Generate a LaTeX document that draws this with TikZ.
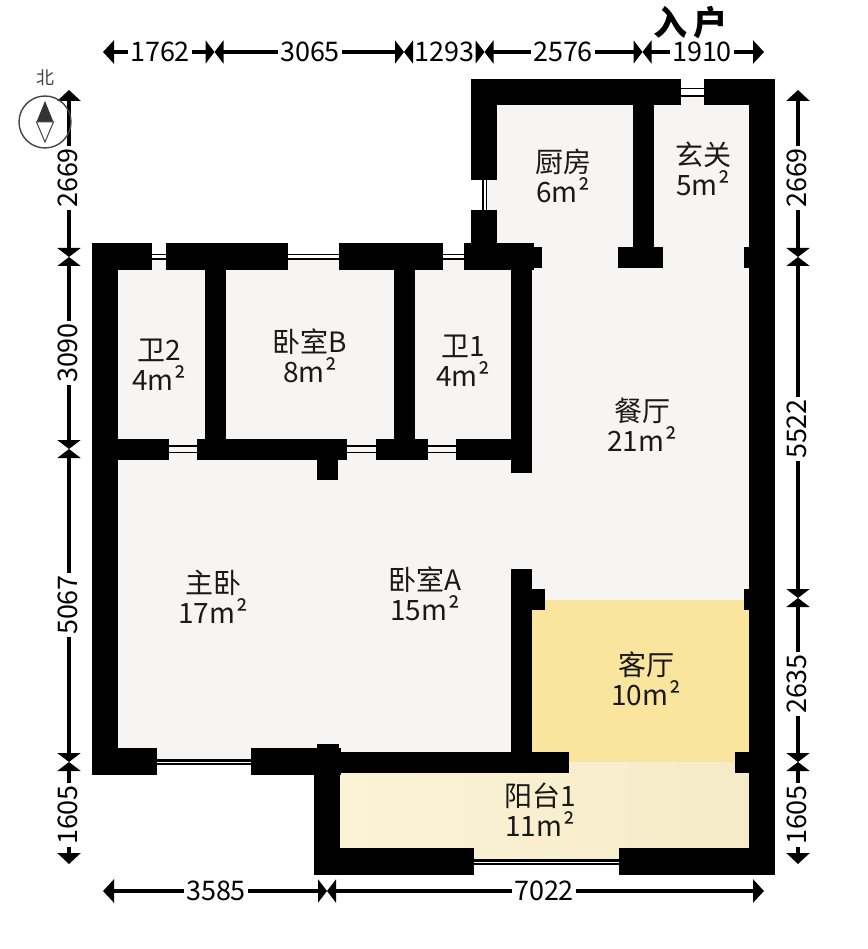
\documentclass[tikz,border=0pt]{standalone}
\usepackage{fontspec}
\setmainfont{Noto Sans CJK SC}
\usetikzlibrary{arrows.meta}
\definecolor{floorc}{HTML}{F6F5F3}
\definecolor{livingc}{HTML}{FAE59F}
\definecolor{balconyl}{HTML}{FBF3D6}
\definecolor{balconyr}{HTML}{F6EBC8}
\definecolor{compassc}{HTML}{444444}
\tikzset{
  floorarea/.style={fill=floorc,draw=none},
  wallpart/.style={fill=black,draw=none},
  panepart/.style={draw=black,line width=1.8pt},
  thickpane/.style={draw=black,line width=2.6pt},
  dimlabel/.style={font=\fontsize{27}{30}\selectfont,inner xsep=2pt,inner ysep=0pt,text height=19.8pt,text depth=0pt},
  vertlabel/.style={dimlabel,rotate=90,text depth=2pt},
  dimend/.style={draw=black,line width=4pt,-{Triangle[length=11pt,width=23pt]}},
  dimmid/.style={draw=black,line width=4pt,-{Triangle[length=9pt,width=23pt]}},
  roomlabel/.style={font=\fontsize{28}{30}\selectfont,align=center,inner sep=0pt,text=black!90},
}
\newcommand{\sqm}{m\kern1pt ²}
\newcommand{\wallrect}[4]{\fill[wallpart] (#1,#2) rectangle (#3,#4);}
\newcommand{\hpane}[3]{\draw[panepart] (#1,#3) -- (#2,#3);}
\newcommand{\vpane}[3]{\draw[panepart] (#3,#1) -- (#3,#2);}
\begin{document}
\begin{tikzpicture}[x=1pt,y=-1pt]
\useasboundingbox (0,0) rectangle (867,949);
% floors
\fill[floorarea] (497,97) rectangle (749,600);
\fill[floorarea] (487,105) rectangle (500,243);
\fill[floorarea] (118,260) rectangle (520,752);
\fill[floorarea] (500,460) rectangle (532,752);
\fill[livingc] (532,600) rectangle (749,762);
\fill[left color=balconyl,right color=balconyr,draw=none] (340,762) rectangle (749,860);
\fill[floorc] (118,745) rectangle (251,759);
% windows
\hpane{152}{166}{254.5}\hpane{152}{166}{259}
\hpane{288}{339}{254.5}\hpane{288}{339}{259}
\hpane{443}{464}{254.5}\hpane{443}{464}{259}
\hpane{681}{704}{88.5}\hpane{681}{704}{96}
\vpane{180}{210}{483}\vpane{180}{210}{486.5}
\hpane{169}{197}{446}\hpane{169}{197}{452.5}
\hpane{347}{376}{446}\hpane{347}{376}{452.5}
\hpane{428}{456}{446}\hpane{428}{456}{452.5}
\draw[thickpane] (157,760.5) -- (251,760.5);
\draw[thickpane] (157,764) -- (251,764);
\draw[thickpane] (474,860.5) -- (619,860.5);
\draw[thickpane] (474,864) -- (619,864);
% walls
\wallrect{92}{243}{118}{775}
\wallrect{92}{243}{152}{270}
\wallrect{166}{243}{288}{270}
\wallrect{339}{243}{443}{270}
\wallrect{464}{243}{534}{270}
\wallrect{534}{247}{542}{268}
\wallrect{205}{270}{226}{440}
\wallrect{394}{270}{415}{440}
\wallrect{511}{270}{532}{473}
\wallrect{118}{439}{169}{460}
\wallrect{197}{439}{347}{460}
\wallrect{376}{439}{428}{460}
\wallrect{456}{439}{511}{460}
\wallrect{317}{460}{338}{480}
\wallrect{471}{79}{681}{105}
\wallrect{704}{79}{775}{105}
\wallrect{749}{79}{775}{875}
\wallrect{471}{79}{497}{180}
\wallrect{471}{210}{497}{243}
\wallrect{633}{105}{654}{247}
\wallrect{618}{247}{663}{268}
\wallrect{744}{247}{749}{268}
\wallrect{511}{569}{532}{752}
\wallrect{532}{589}{545}{610}
\wallrect{744}{589}{749}{610}
\wallrect{92}{748}{157}{775}
\wallrect{251}{748}{341}{775}
\wallrect{317}{744}{339}{748}
\wallrect{341}{752}{569}{773}
\wallrect{735}{752}{749}{773}
\wallrect{314}{775}{340}{875}
\wallrect{314}{848}{474}{875}
\wallrect{619}{848}{775}{875}
% room labels
\node[roomlabel] (kitchen) at (563,176) {厨房\\6\sqm};
\node[roomlabel] (foyer) at (703,169) {玄关\\5\sqm};
\node[roomlabel] (bathb) at (159,365) {卫2\\4\sqm};
\node[roomlabel] (bedb) at (310,356) {卧室B\\8\sqm};
\node[roomlabel] (batha) at (463,361) {卫1\\4\sqm};
\node[roomlabel] (dining) at (642,425) {餐厅\\21\sqm};
\node[roomlabel] (master) at (213,597) {主卧\\17\sqm};
\node[roomlabel] (beda) at (425,594) {卧室A\\15\sqm};
\node[roomlabel] (living) at (646,679) {客厅\\10\sqm};
\node[roomlabel] (balcony) at (540,810) {阳台1\\11\sqm};
\node[font=\bfseries\fontsize{34}{40}\selectfont,inner sep=0pt] (entry) at (690.5,23) {入\kern7pt 户};
% dimension points
\coordinate (ta) at (103,52);
\coordinate (tb) at (214.5,52);
\coordinate (tc) at (404,52);
\coordinate (td) at (484.5,52);
\coordinate (te) at (642.5,52);
\coordinate (tf) at (764,52);
\coordinate (la) at (69,90);
\coordinate (lb) at (69,257);
\coordinate (lc) at (69,449);
\coordinate (ld) at (69,762);
\coordinate (le) at (69,864);
\coordinate (ra) at (798,90);
\coordinate (rb) at (798,257);
\coordinate (rc) at (798,598);
\coordinate (rd) at (798,762);
\coordinate (re) at (798,864);
\coordinate (ba) at (103,891);
\coordinate (bb) at (327,891);
\coordinate (bc) at (764,891);
% dimension labels
\node[dimlabel] (d1762) at (160,52) {1762};
\node[dimlabel] (d3065) at (310,52) {3065};
\node[dimlabel] (d1293) at (444.5,52) {1293};
\node[dimlabel] (d2576) at (563,52) {2576};
\node[dimlabel] (d1910) at (702,52) {1910};
\node[vertlabel] (l2669) at (69,178) {2669};
\node[vertlabel] (l3090) at (69,353) {3090};
\node[vertlabel] (l5067) at (69,605) {5067};
\node[vertlabel] (l1605) at (69,815) {1605};
\node[vertlabel] (r2669) at (798,178) {2669};
\node[vertlabel] (r5522) at (798,429) {5522};
\node[vertlabel] (r2635) at (798,684) {2635};
\node[vertlabel] (r1605) at (798,815) {1605};
\node[dimlabel] (b3585) at (216,891) {3585};
\node[dimlabel] (b7022) at (544,891) {7022};
% dimension lines
\foreach \lab/\from/\to/\fs/\ts in {d1762/ta/tb/dimend/dimmid,d3065/tb/tc/dimmid/dimmid,d1293/tc/td/dimmid/dimmid,d2576/td/te/dimmid/dimmid,d1910/te/tf/dimmid/dimend,
  l2669/la/lb/dimend/dimmid,l3090/lb/lc/dimmid/dimmid,l5067/lc/ld/dimmid/dimmid,l1605/ld/le/dimmid/dimend,
  r2669/ra/rb/dimend/dimmid,r5522/rb/rc/dimmid/dimmid,r2635/rc/rd/dimmid/dimmid,r1605/rd/re/dimmid/dimend,
  b3585/ba/bb/dimend/dimmid,b7022/bb/bc/dimmid/dimend}{
  \draw[\fs] (\lab) -- (\from);
  \draw[\ts] (\lab) -- (\to);
}
% compass
\node[font=\fontsize{18}{20}\selectfont,text=compassc,inner sep=0pt] (north) at (45,78) {北};
\node[circle,draw=compassc,line width=1.4pt,minimum size=52pt,inner sep=0pt] (dial) at (45,122) {};
\fill[black!80] (45,101) -- (36.5,122) -- (53.5,122) -- cycle;
\draw[compassc,line width=1pt,fill=white] (36.5,122) -- (53.5,122) -- (45,142) -- cycle;
\end{tikzpicture}
\end{document}
